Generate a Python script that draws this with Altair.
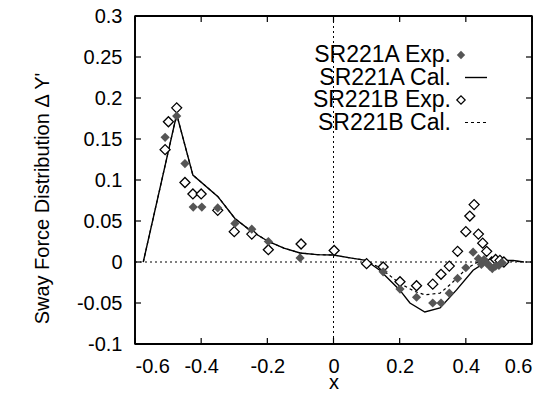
import altair as alt
import pandas as pd

# ---- data ----
a_exp_x = [-0.509, -0.474, -0.449, -0.424, -0.398, -0.350, -0.298, -0.247, -0.197, -0.101,
           0.150, 0.201, 0.251, 0.300, 0.325, 0.350, 0.375, 0.400, 0.422, 0.438, 0.447,
           0.455, 0.465, 0.472, 0.480, 0.490, 0.500, 0.510]
a_exp_y = [0.152, 0.178, 0.120, 0.067, 0.067, 0.066, 0.047, 0.040, 0.025, 0.005,
           -0.012, -0.033, -0.043, -0.050, -0.050, -0.038, -0.020, -0.007, 0.012, 0.004, -0.003,
           0.003, -0.002, -0.005, -0.008, -0.005, -0.004, -0.001]

b_exp_x = [-0.509, -0.499, -0.474, -0.449, -0.425, -0.400, -0.350, -0.300, -0.247, -0.197,
           -0.098, 0.002, 0.100, 0.150, 0.201, 0.251, 0.300, 0.325, 0.350, 0.375, 0.400,
           0.412, 0.425, 0.438, 0.451, 0.463, 0.478, 0.490, 0.503, 0.515]
b_exp_y = [0.137, 0.171, 0.188, 0.097, 0.083, 0.083, 0.063, 0.037, 0.034, 0.015,
           0.022, 0.014, -0.002, -0.006, -0.024, -0.029, -0.027, -0.015, -0.005, 0.013, 0.037,
           0.056, 0.070, 0.034, 0.023, 0.013, 0.000, 0.003, 0.002, 0.000]

a_cal_x = [-0.575, -0.474, -0.425, -0.350, -0.298, -0.250, -0.197, -0.150, -0.101, -0.050,
           0.000, 0.050, 0.098, 0.140, 0.200, 0.231, 0.276, 0.322, 0.372, 0.422, 0.453,
           0.503, 0.543, 0.575]
a_cal_y = [0.000, 0.180, 0.106, 0.080, 0.053, 0.038, 0.025, 0.017, 0.011, 0.009,
           0.0085, 0.005, 0.002, -0.010, -0.034, -0.050, -0.061, -0.056, -0.034, -0.010, -0.002,
           0.002, 0.002, 0.000]

b_cal_x = [-0.575, -0.474, -0.425, -0.350, -0.298, -0.250, -0.197, -0.150, -0.101, -0.050,
           0.000, 0.050, 0.098, 0.140, 0.200, 0.246, 0.276, 0.322, 0.357, 0.402, 0.432,
           0.473, 0.520, 0.575]
b_cal_y = [0.000, 0.180, 0.106, 0.080, 0.053, 0.038, 0.025, 0.017, 0.011, 0.009,
           0.0085, 0.005, 0.002, -0.007, -0.026, -0.036, -0.040, -0.038, -0.026, -0.008, -0.001,
           0.003, 0.002, 0.000]

x_ticks = [-0.6, -0.4, -0.2, 0, 0.2, 0.4, 0.6]
y_ticks = [-0.1, -0.05, 0, 0.05, 0.1, 0.15, 0.2, 0.25, 0.3]
x_range = [-0.6, 0.6]
y_range = [-0.1, 0.3]
legend_labels = ["SR221A Exp.", "SR221A Cal.", "SR221B Exp.", "SR221B Cal."]

W, H = 397, 328
FONT = "Liberation Sans"
xs = alt.Scale(domain=x_range, nice=False, zero=False)
ys = alt.Scale(domain=y_range, nice=False, zero=False)

a_exp = pd.DataFrame({"x": a_exp_x, "y": a_exp_y})
b_exp = pd.DataFrame({"x": b_exp_x, "y": b_exp_y})
a_cal = pd.DataFrame({"x": a_cal_x, "y": a_cal_y, "o": range(len(a_cal_x))})
b_cal = pd.DataFrame({"x": b_cal_x, "y": b_cal_y, "o": range(len(b_cal_x))})
xt = pd.DataFrame({"x": x_ticks})
yt = pd.DataFrame({"y": y_ticks})
zero_df = pd.DataFrame({"x": [0], "y": [0]})
fx = pd.DataFrame({"x": x_range})
fy = pd.DataFrame({"y": y_range})

x_axis = alt.Axis(values=x_ticks, labelExpr="'' + datum.value", ticks=False, domain=False,
                  grid=False, labelFontSize=20, labelFont=FONT, labelColor="black",
                  labelPadding=12, title="x", titleFont=FONT, titleFontSize=20,
                  titleFontWeight="normal", titleColor="black", titleBaseline="alphabetic",
                  titleY=44)
y_axis = alt.Axis(values=y_ticks, labelExpr="'' + datum.value", ticks=False, domain=False,
                  grid=False, labelFontSize=20, labelFont=FONT, labelColor="black",
                  labelPadding=13, title="Sway Force Distribution \u0394 Y'", titleFont=FONT,
                  titleFontSize=20, titleFontWeight="normal", titleColor="black",
                  titleX=-93, titleY=182, titleBaseline="middle", titleAngle=-90)


def X(field="x"):
    return alt.X(f"{field}:Q", scale=xs, axis=x_axis)


def Y(field="y"):
    return alt.Y(f"{field}:Q", scale=ys, axis=y_axis)


a_line = alt.Chart(a_cal).mark_line(color="black", strokeWidth=1.4).encode(
    x=X(), y=Y(), order="o:Q")
b_line = alt.Chart(b_cal).mark_line(color="black", strokeWidth=1.2, strokeDash=[3, 3]).encode(
    x=X(), y=Y(), order="o:Q")
b_pts = alt.Chart(b_exp).mark_point(shape="diamond", size=100, filled=False, fill="white",
                                    fillOpacity=1, stroke="black", strokeWidth=1.3, opacity=1).encode(
    x=X(), y=Y())
a_pts = alt.Chart(a_exp).mark_point(shape="diamond", size=85, filled=True, color="#555555",
                                    opacity=1).encode(x=X(), y=Y())

zero_v = alt.Chart(zero_df).mark_rule(color="black", strokeDash=[2, 3], strokeWidth=1).encode(x=X())
zero_h = alt.Chart(zero_df).mark_rule(color="black", strokeDash=[2, 3], strokeWidth=1).encode(y=Y())

# plot frame: full-length rules at the ends of both ranges
frame_v = alt.Chart(fx).mark_rule(color="black", strokeWidth=1.8).encode(x=X())
frame_h = alt.Chart(fy).mark_rule(color="black", strokeWidth=1.8).encode(y=Y())

tick_style = dict(color="black", strokeWidth=1.2)
tb = alt.Chart(xt).mark_rule(**tick_style).encode(x=X(), y=alt.value(H), y2=alt.value(H - 6))
tt = alt.Chart(xt).mark_rule(**tick_style).encode(x=X(), y=alt.value(0), y2=alt.value(6))
tl = alt.Chart(yt).mark_rule(**tick_style).encode(y=Y(), x=alt.value(0), x2=alt.value(6))
tr = alt.Chart(yt).mark_rule(**tick_style).encode(y=Y(), x=alt.value(W), x2=alt.value(W - 6))

# legend (gnuplot style: label then sample)
leg = pd.DataFrame({"label": legend_labels})
rows = [39, 61.5, 84, 106.5]
legend_layers = []
for i, lab in enumerate(legend_labels):
    legend_layers.append(
        alt.Chart(leg).transform_filter(alt.datum.label == lab).mark_text(
            align="right", baseline="middle", fontSize=23, font=FONT, color="black").encode(
            x=alt.value(316), y=alt.value(rows[i]), text="label:N"))
legend_layers.append(alt.Chart(leg).transform_filter(alt.datum.label == legend_labels[0]).mark_point(
    shape="diamond", size=70, filled=True, color="#555555", opacity=1).encode(
    x=alt.value(326), y=alt.value(rows[0])))
legend_layers.append(alt.Chart(leg).transform_filter(alt.datum.label == legend_labels[1]).mark_rule(
    color="black", strokeWidth=1.4).encode(
    x=alt.value(330), x2=alt.value(352), y=alt.value(rows[1])))
legend_layers.append(alt.Chart(leg).transform_filter(alt.datum.label == legend_labels[2]).mark_point(
    shape="diamond", size=70, filled=False, fill="white", fillOpacity=1, stroke="black",
    strokeWidth=1.2, opacity=1).encode(
    x=alt.value(326), y=alt.value(rows[2])))
legend_layers.append(alt.Chart(leg).transform_filter(alt.datum.label == legend_labels[3]).mark_rule(
    color="black", strokeWidth=1.2, strokeDash=[3, 3]).encode(
    x=alt.value(330), x2=alt.value(352), y=alt.value(rows[3])))

chart = alt.layer(
    a_line, zero_v, zero_h, b_line, tb, tt, tl, tr, b_pts, a_pts, frame_v, frame_h,
    *legend_layers
).properties(
    width=W, height=H, autosize="none", background="white",
    padding={"left": 127, "top": 8, "right": 19, "bottom": 47},
).configure_view(stroke="black", strokeWidth=1.5)

chart.save("out.html", embed_options={"renderer": "svg", "actions": False})
